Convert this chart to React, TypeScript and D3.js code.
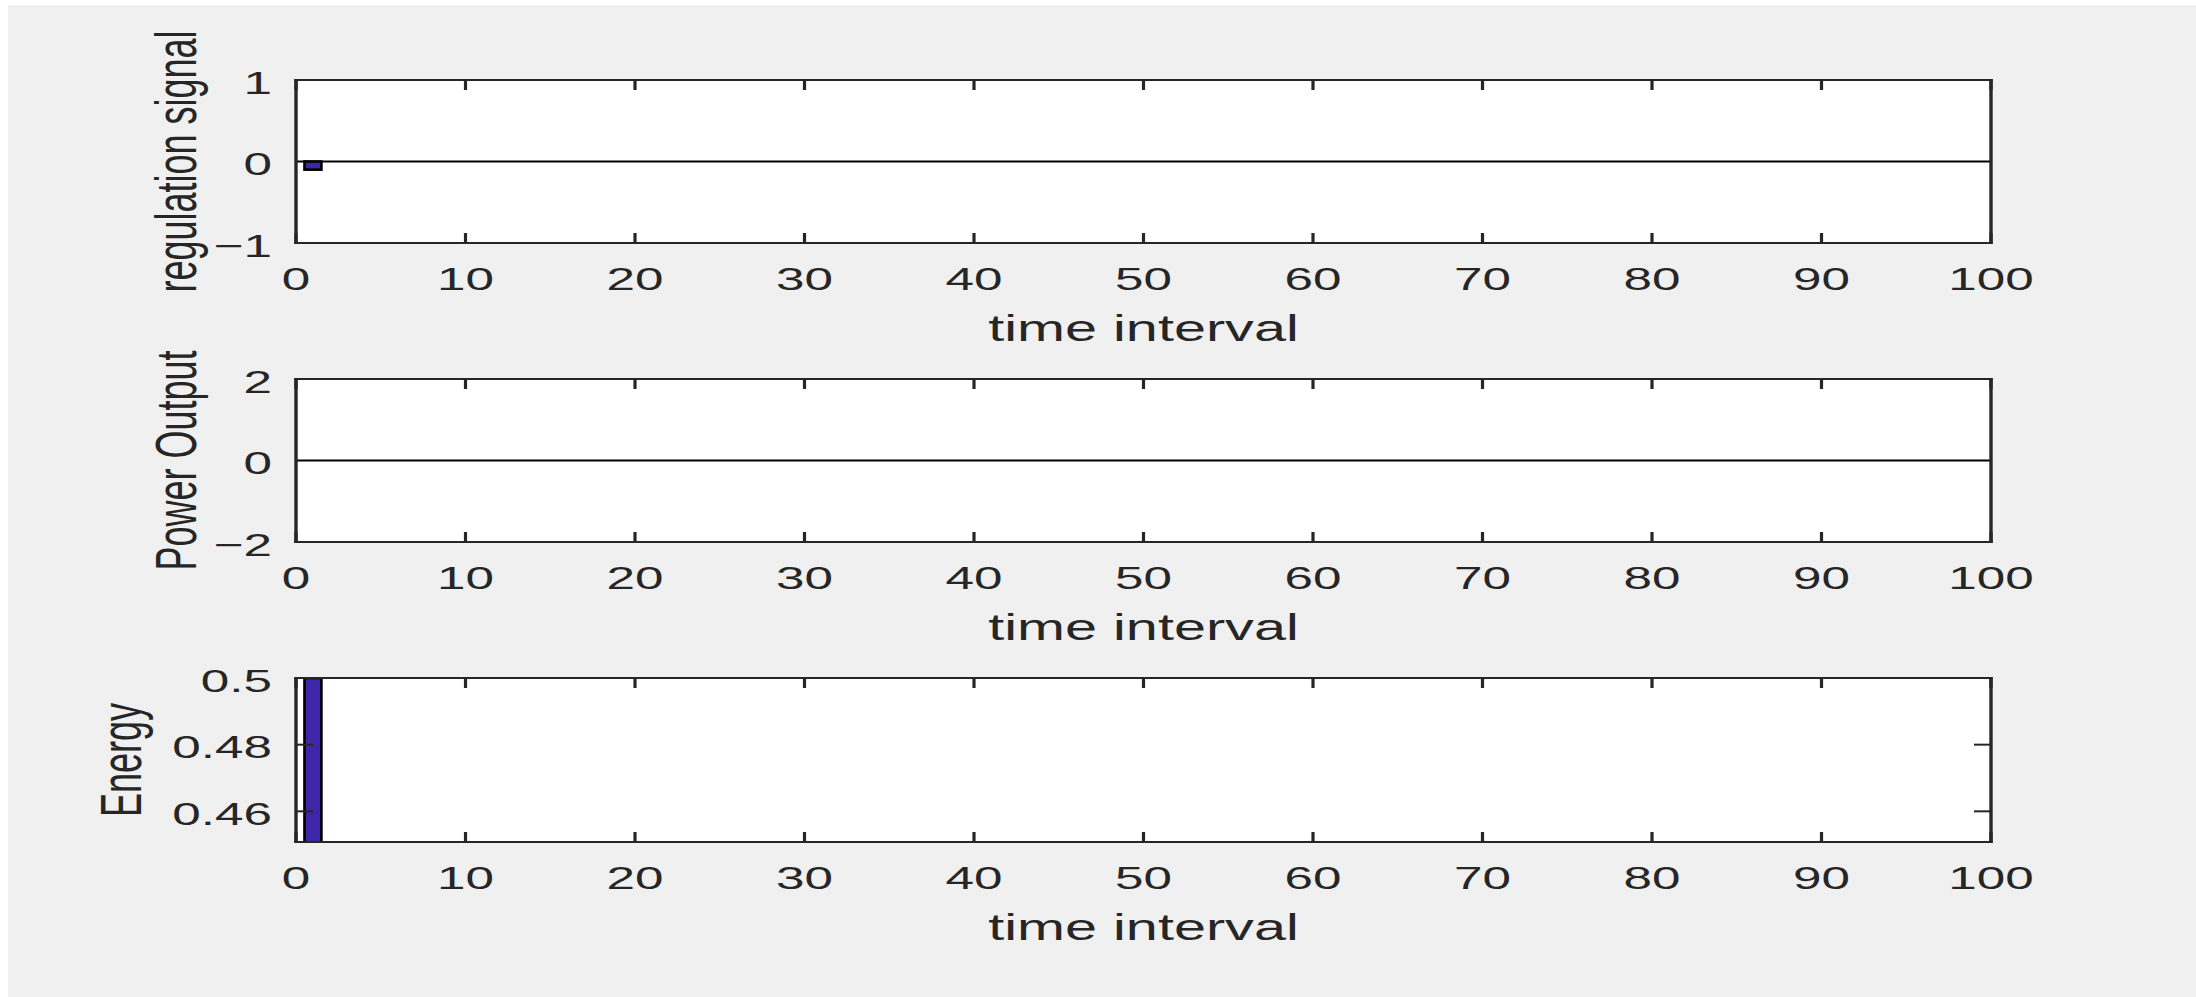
import React from "react";
import * as d3 from "d3";

// ---------- data ----------
const timeTicks = [0, 10, 20, 30, 40, 50, 60, 70, 80, 90, 100];
const timeDomain = [0, 100];

const regulationTime = [1];
const regulationValues = [-0.1];
const regulationTicks = [-1, 0, 1];
const regulationTickLabels = ["\u22121", "0", "1"];
const regulationDomain = [-1, 1];

const powerTime: number[] = [];
const powerValues: number[] = [];
const powerTicks = [-2, 0, 2];
const powerTickLabels = ["\u22122", "0", "2"];
const powerDomain = [-2, 2];

const energyTime = [1];
const energyValues = [0.5];
const energyTicks = [0.46, 0.48, 0.5];
const energyTickLabels = ["0.46", "0.48", "0.5"];
const energyDomain = [0.4508, 0.5];

const xLabel = "time interval";

// ---------- layout ----------
const W = 2196;
const H = 997;
const AX_LEFT = 296;
const AX_RIGHT = 1991;
const SX = 1.6; // horizontal glyph stretch of the reference
const FONT = "'Liberation Sans', Arial, Helvetica, sans-serif";
const TXT = "#262626";
const BAR_FILL = "#3E26A8";

const panels = [
  {
    id: "reg", ylabel: "regulation signal", time: regulationTime, values: regulationValues,
    ticks: regulationTicks, tickLabels: regulationTickLabels, domain: regulationDomain,
    top: 80, bottom: 243, ylabelX: 196, baseline: true, showYTicks: false,
  },
  {
    id: "pow", ylabel: "Power Output", time: powerTime, values: powerValues,
    ticks: powerTicks, tickLabels: powerTickLabels, domain: powerDomain,
    top: 379, bottom: 542, ylabelX: 196, baseline: true, showYTicks: false,
  },
  {
    id: "eng", ylabel: "Energy", time: energyTime, values: energyValues,
    ticks: energyTicks, tickLabels: energyTickLabels, domain: energyDomain,
    top: 678, bottom: 842, ylabelX: 141, baseline: false, showYTicks: true,
  },
];

const x = d3.scaleLinear().domain(timeDomain).range([AX_LEFT, AX_RIGHT]);
const barHalf = 0.5; // half bar width in time units

function Panel({ p }: { p: (typeof panels)[number] }) {
  const y = d3.scaleLinear().domain(p.domain).range([p.bottom, p.top]);
  const y0 = y(0);
  const midY = (p.top + p.bottom) / 2;
  const clipId = `clip-${p.id}`;
  return (
    <g>
      <defs>
        <clipPath id={clipId}>
          <rect x={AX_LEFT} y={p.top} width={AX_RIGHT - AX_LEFT} height={p.bottom - p.top} />
        </clipPath>
      </defs>
      <rect x={AX_LEFT} y={p.top} width={AX_RIGHT - AX_LEFT} height={p.bottom - p.top} fill="#ffffff" />
      <g clipPath={`url(#${clipId})`}>
        {p.baseline && (
          <line x1={AX_LEFT} x2={AX_RIGHT} y1={y0} y2={y0} stroke="#000" strokeWidth={2} />
        )}
        {p.time.map((t, i) => {
          const v = p.values[i];
          const x0 = x(t - barHalf);
          const x1 = x(t + barHalf);
          const ya = Math.min(y(v), y0);
          const yb = Math.max(y(v), y0);
          const top = Math.max(ya, p.top - 10);
          const bot = Math.min(yb, p.bottom + 10);
          return (
            <rect key={i} x={x0} y={top} width={x1 - x0} height={bot - top}
              fill={BAR_FILL} stroke="#000" strokeWidth={2.6} />
          );
        })}
      </g>
      {/* x ticks, top and bottom, inward */}
      {timeTicks.map((t) => (
        <g key={`xt${t}`}>
          <line x1={x(t)} x2={x(t)} y1={p.bottom} y2={p.bottom - 10} stroke={TXT} strokeWidth={3.2} />
          <line x1={x(t)} x2={x(t)} y1={p.top} y2={p.top + 10} stroke={TXT} strokeWidth={3.2} />
        </g>
      ))}
      {/* y ticks left and right, inward */}
      {p.showYTicks &&
        p.ticks.map((t) => (
          <g key={`yt${t}`}>
            <line x1={AX_LEFT} x2={AX_LEFT + 17} y1={y(t)} y2={y(t)} stroke={TXT} strokeWidth={2} />
            <line x1={AX_RIGHT} x2={AX_RIGHT - 17} y1={y(t)} y2={y(t)} stroke={TXT} strokeWidth={2} />
          </g>
        ))}
      {/* box */}
      <line x1={AX_LEFT - 1.7} x2={AX_RIGHT + 1.7} y1={p.top} y2={p.top} stroke={TXT} strokeWidth={2} />
      <line x1={AX_LEFT - 1.7} x2={AX_RIGHT + 1.7} y1={p.bottom} y2={p.bottom} stroke={TXT} strokeWidth={2} />
      <line x1={AX_LEFT} x2={AX_LEFT} y1={p.top - 1} y2={p.bottom + 1} stroke={TXT} strokeWidth={3.4} />
      <line x1={AX_RIGHT} x2={AX_RIGHT} y1={p.top - 1} y2={p.bottom + 1} stroke={TXT} strokeWidth={3.4} />
      {/* x tick labels */}
      {timeTicks.map((t) => (
        <g key={`xl${t}`} transform={`translate(${x(t)},${p.bottom + 47}) scale(${SX},1)`}>
          <text textAnchor="middle" fontFamily={FONT} fontSize={32} fill={TXT}>{String(t)}</text>
        </g>
      ))}
      {/* y tick labels */}
      {p.ticks.map((t, i) => (
        <g key={`yl${t}`} transform={`translate(272,${y(t) + 13.5}) scale(${SX},1)`}>
          <text textAnchor="end" fontFamily={FONT} fontSize={32} fill={TXT}>{p.tickLabels[i]}</text>
        </g>
      ))}
      {/* x label */}
      <g transform={`translate(${(AX_LEFT + AX_RIGHT) / 2},${p.bottom + 98}) scale(${SX},1)`}>
        <text textAnchor="middle" fontFamily={FONT} fontSize={36} fill={TXT}>{xLabel}</text>
      </g>
      {/* y label */}
      <g transform={`translate(${p.ylabelX},${midY}) scale(${SX},1) rotate(-90)`}>
        <text textAnchor="middle" fontFamily={FONT} fontSize={36} fill={TXT}>{p.ylabel}</text>
      </g>
    </g>
  );
}

export default function App() {
  return (
    <svg width={W} height={H} viewBox={`0 0 ${W} ${H}`}
      style={{ position: "absolute", left: 0, top: 0, display: "block" }}>
      <rect x={0} y={0} width={W} height={H} fill="#ffffff" />
      <rect x={8} y={5} width={W - 8} height={H - 5} fill="#f0f0f0" />
      {panels.map((p) => (
        <Panel key={p.id} p={p} />
      ))}
    </svg>
  );
}
